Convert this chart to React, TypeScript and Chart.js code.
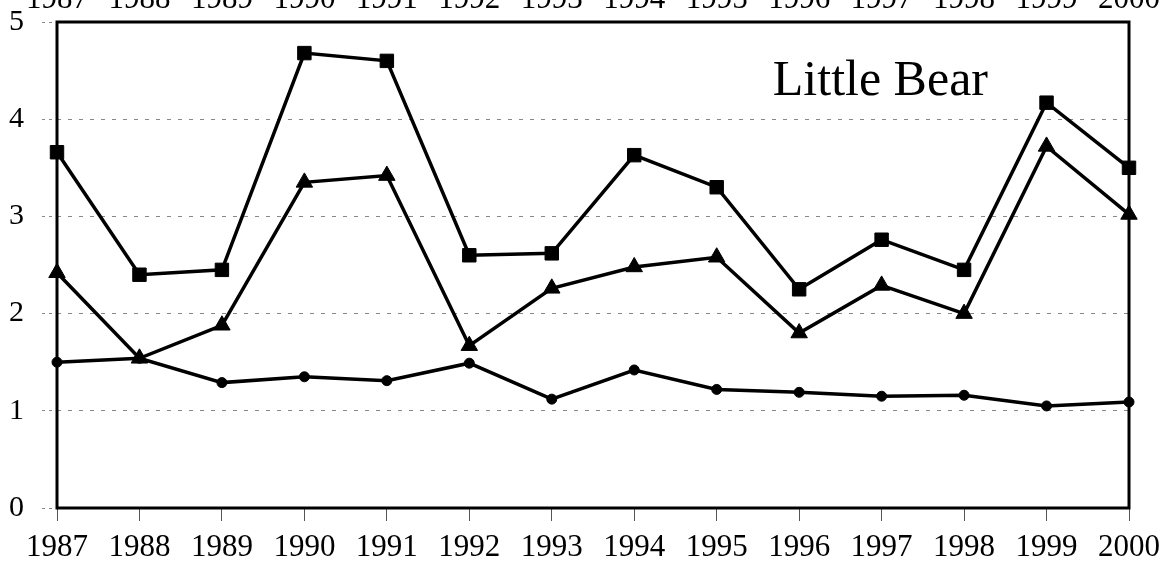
import React, { useEffect, useRef } from "react";
import { Chart, registerables } from "chart.js";

Chart.register(...registerables);

const years = ["1987", "1988", "1989", "1990", "1991", "1992", "1993", "1994", "1995", "1996", "1997", "1998", "1999", "2000"];
const squareSeries = [3.66, 2.40, 2.45, 4.68, 4.60, 2.60, 2.62, 3.63, 3.30, 2.25, 2.76, 2.45, 4.17, 3.50];
const triangleSeries = [2.42, 1.54, 1.88, 3.35, 3.42, 1.67, 2.26, 2.48, 2.58, 1.80, 2.29, 2.00, 3.72, 3.02];
const circleSeries = [1.50, 1.54, 1.29, 1.35, 1.31, 1.49, 1.12, 1.42, 1.22, 1.19, 1.15, 1.16, 1.05, 1.09];
const yTicks = [0, 1, 2, 3, 4, 5];
const titleText = "Little Bear";

const SERIF = '"Liberation Serif", "Times New Roman", serif';

const boxPlugin = {
  id: "boxAndTitle",
  beforeDatasetsDraw(chart: any) {
    const { ctx, chartArea } = chart;
    ctx.save();
    ctx.strokeStyle = "#000";
    ctx.lineWidth = 3;
    ctx.strokeRect(chartArea.left, chartArea.top, chartArea.right - chartArea.left, chartArea.bottom - chartArea.top);
    ctx.fillStyle = "#000";
    ctx.font = `50px ${SERIF}`;
    ctx.textAlign = "right";
    ctx.textBaseline = "alphabetic";
    ctx.fillText(titleText, chartArea.right - 141, chartArea.top + 73);
    ctx.restore();
  },
};

const noPad = (s: any) => {
  s.paddingTop = 0;
  s.paddingBottom = 0;
  s.paddingLeft = 0;
  s.paddingRight = 0;
};

export default function App() {
  const ref = useRef<HTMLCanvasElement | null>(null);
  useEffect(() => {
    if (!ref.current) return;
    const common = {
      borderColor: "#000",
      backgroundColor: "#000",
      pointBackgroundColor: "#000",
      pointBorderColor: "#000",
      borderWidth: 3.5,
      tension: 0,
      fill: false,
      clip: false as any,
    };
    const chart = new Chart(ref.current, {
      type: "line",
      data: {
        labels: years,
        datasets: [
          { ...common, label: "A", data: circleSeries, pointStyle: "circle", pointRadius: 5, pointBorderWidth: 1 },
          { ...common, label: "B", data: triangleSeries, pointStyle: "triangle", pointRadius: 9.5, pointBorderWidth: 1 },
          { ...common, label: "C", data: squareSeries, pointStyle: "rect", pointRadius: 9.5, pointBorderWidth: 1 },
        ],
      },
      options: {
        animation: false,
        responsive: true,
        maintainAspectRatio: false,
        layout: { padding: { left: 0, right: 44, top: 0, bottom: 0 } },
        plugins: { legend: { display: false }, title: { display: false }, tooltip: { enabled: false } },
        scales: {
          x: {
            type: "category",
            position: "bottom",
            offset: false,
            grid: { display: true, drawOnChartArea: false, drawTicks: true, tickLength: 13, tickColor: "#555", tickWidth: 1 },
            border: { display: false },
            ticks: { color: "#000", font: { family: SERIF, size: 31 }, padding: 8, maxRotation: 0, autoSkip: false },
            afterFit: (s: any) => { s.height = 59; noPad(s); },
          },
          x2: {
            type: "category",
            position: "top",
            labels: years,
            offset: false,
            grid: { display: false, drawTicks: false },
            border: { display: false },
            ticks: { color: "#000", font: { family: SERIF, size: 31 }, padding: 4, maxRotation: 0, autoSkip: false },
            afterFit: (s: any) => { s.height = 22; noPad(s); },
          },
          y: {
            type: "linear",
            min: 0,
            max: 5,
            afterBuildTicks: (s: any) => { s.ticks = yTicks.map((v) => ({ value: v })); },
            grid: { color: "#888", lineWidth: 1, tickLength: 15, tickColor: "#888", tickWidth: 1, tickBorderDash: [3, 4] },
            border: { display: false, dash: [4, 7] },
            ticks: { color: "#000", font: { family: SERIF, size: 30 }, padding: 18 },
            afterFit: (s: any) => { s.width = 57; noPad(s); },
          },
        },
      },
      plugins: [boxPlugin],
    });
    return () => chart.destroy();
  }, []);
  return (
    <div style={{ position: "fixed", left: 0, top: 0, width: 1173, height: 567, background: "#fff" }}>
      <canvas ref={ref} />
    </div>
  );
}
